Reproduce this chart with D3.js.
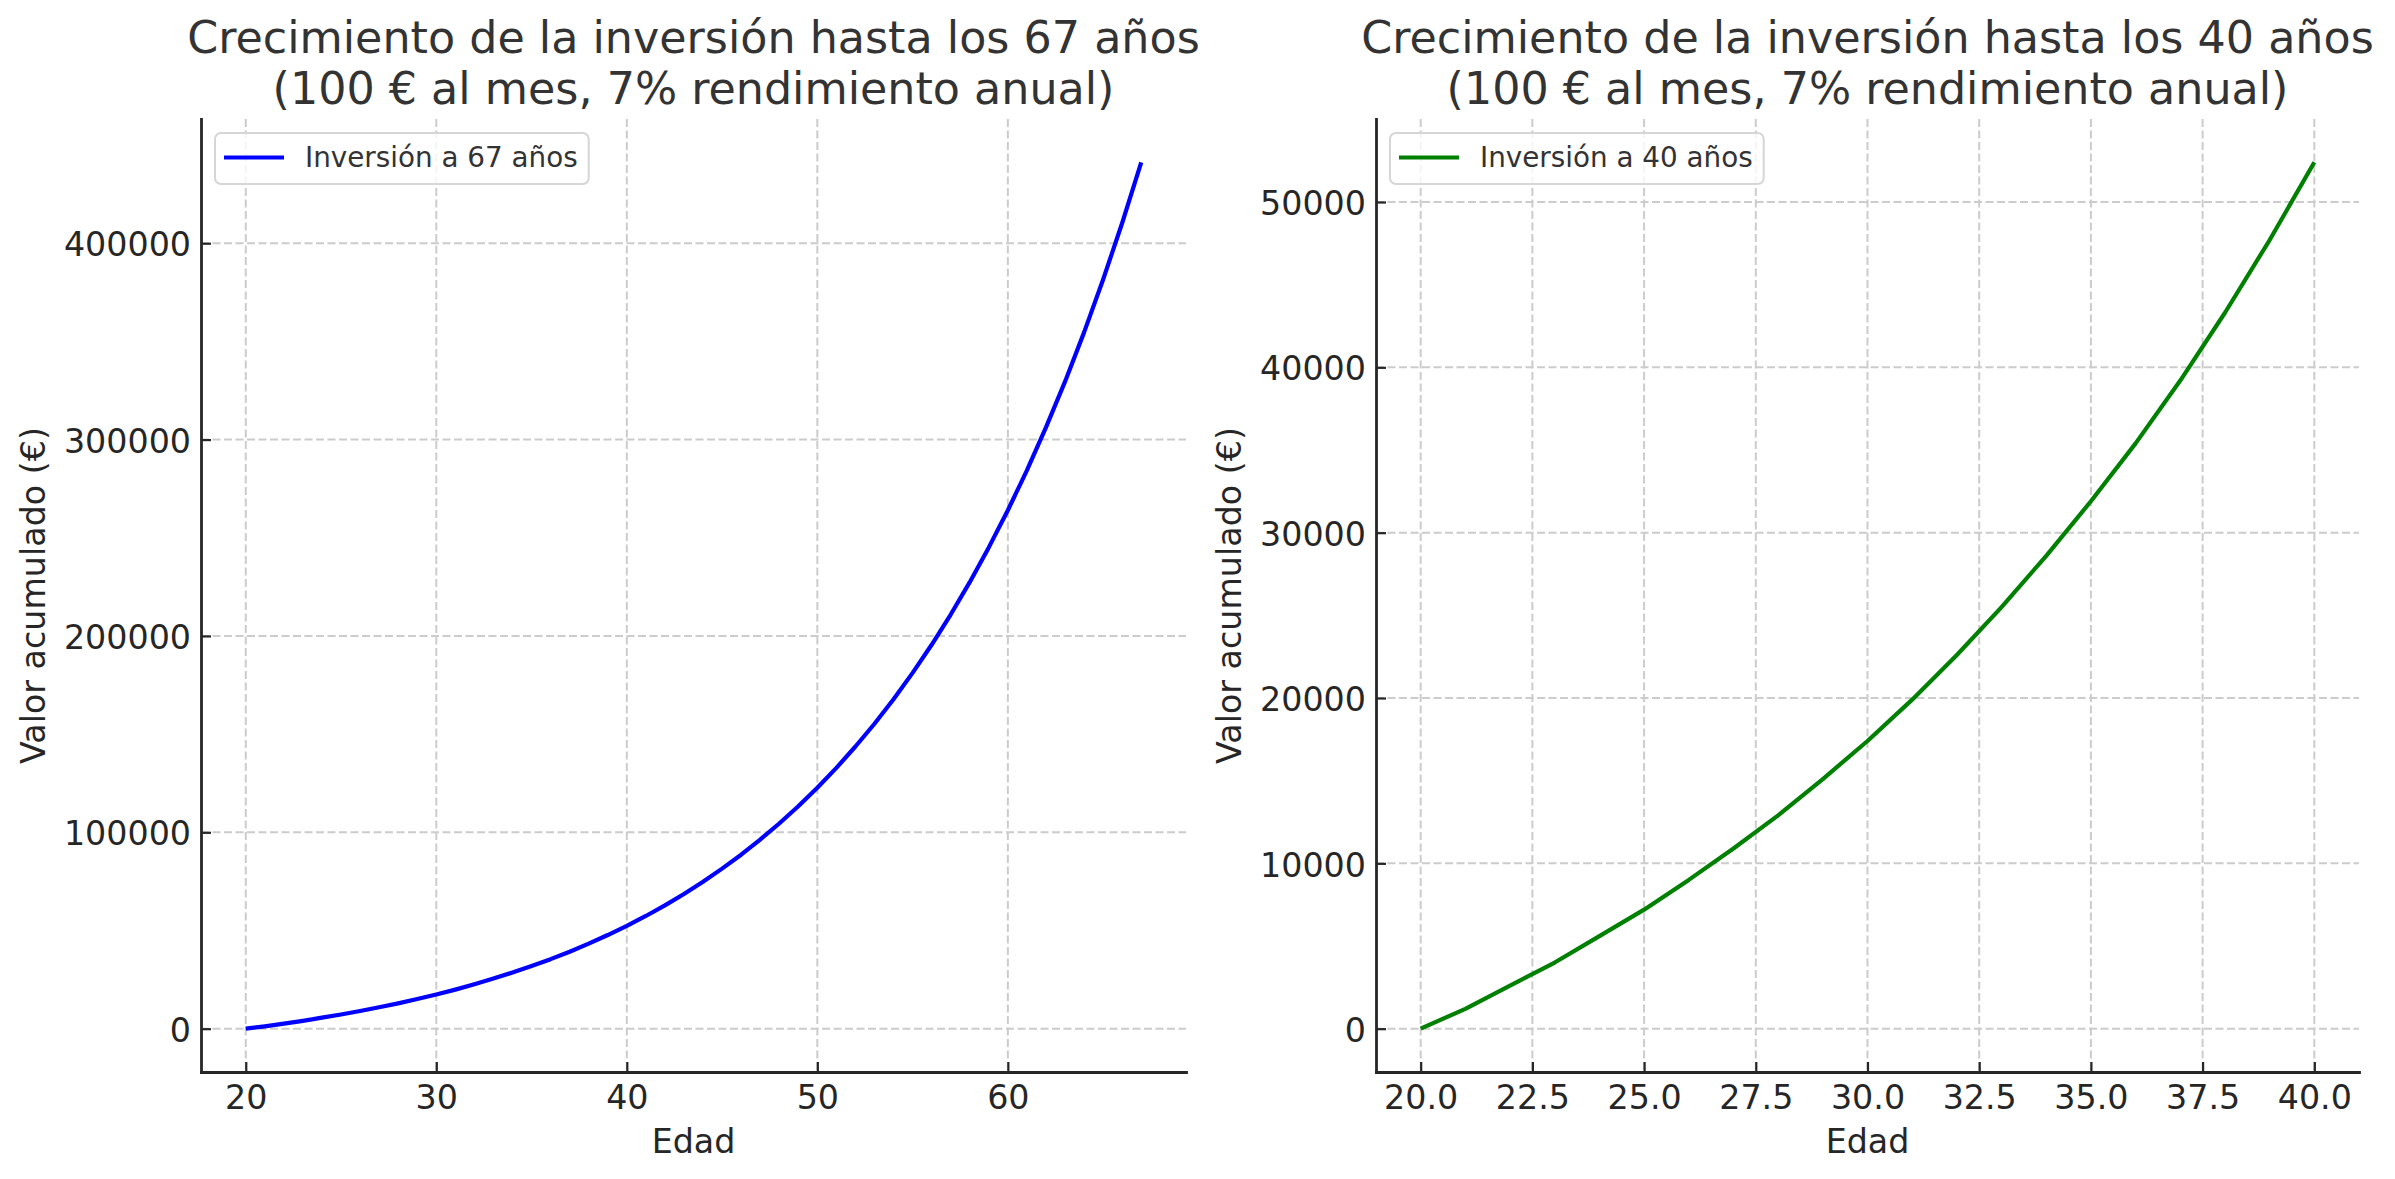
<!DOCTYPE html>
<html>
<head>
<meta charset="utf-8">
<script src="https://cdn.jsdelivr.net/npm/d3@7"></script>
<style>
  body { margin: 0; background: #fff; }
  svg { display: block; }
</style>
</head>
<body>
<div id="wrapper"></div>
<script>
// 1. Data
const ages67 = [20, 21, 22, 23, 24, 25, 26, 27, 28, 29, 30, 31, 32, 33, 34, 35,
  36, 37, 38, 39, 40, 41, 42, 43, 44, 45, 46, 47, 48, 49, 50, 51, 52, 53, 54,
  55, 56, 57, 58, 59, 60, 61, 62, 63, 64, 65, 66, 67]
const values67 = [0, 1200, 2600, 4000, 5600, 7200, 9000, 10900, 12900, 15100,
  17400, 19900, 22600, 25500, 28600, 31900, 35400, 39200, 43300, 47700, 52400,
  57400, 62800, 68600, 74800, 81500, 88600, 96300, 104500, 113300, 122700,
  132800, 143700, 155300, 167800, 181200, 195500, 210900, 227400, 245100,
  264000, 284300, 306200, 329500, 354600, 381500, 410300, 441200]

const ages40 = [20, 21, 22, 23, 24, 25, 26, 27, 28, 29, 30, 31, 32, 33, 34, 35,
  36, 37, 38, 39, 40]
const values40 = [0, 1200, 2600, 4000, 5600, 7200, 9000, 10900, 12900, 15100,
  17400, 19900, 22600, 25500, 28600, 31900, 35400, 39200, 43300, 47700, 52400]

const xTicks67 = [20, 30, 40, 50, 60]
const yTicks67 = [0, 100000, 200000, 300000, 400000]
const xTicks40 = [20, 22.5, 25, 27.5, 30, 32.5, 35, 37.5, 40]
const yTicks40 = [0, 10000, 20000, 30000, 40000, 50000]

const titles67 = ["Crecimiento de la inversión hasta los 67 años", "(100 € al mes, 7% rendimiento anual)"]
const titles40 = ["Crecimiento de la inversión hasta los 40 años", "(100 € al mes, 7% rendimiento anual)"]
const legend67 = "Inversión a 67 años"
const legend40 = "Inversión a 40 años"
const xLabel = "Edad"
const yLabel = "Valor acumulado (€)"

// 2. Dimensions
const dimensions = {
  width: 2395,
  height: 1179,
  top: 119,
  bottom: 1072,
}
const font = "'DejaVu Sans', 'Liberation Sans', sans-serif"
const ink = "#262626"

// 3. Canvas
const wrapper = d3.select("#wrapper")
  .append("svg")
    .attr("width", dimensions.width)
    .attr("height", dimensions.height)
    .attr("font-family", font)

// matplotlib style 5% margins
const padded = ([a, b]) => [a - (b - a) * 0.05, b + (b - a) * 0.05]

function drawPanel(cfg) {
  const { ages, values, xTicks, yTicks, xFormat, color, titles, legend,
    left, right, yLabelX } = cfg
  const top = dimensions.top
  const bottom = dimensions.bottom

  // 4. Scales
  const xScale = d3.scaleLinear()
    .domain(padded(d3.extent(ages)))
    .range([left, right])
  const yScale = d3.scaleLinear()
    .domain(padded(d3.extent(values)))
    .range([bottom, top])

  const panel = wrapper.append("g")

  // grid
  const grid = panel.append("g")
    .attr("stroke", "#cccccc")
    .attr("stroke-width", 2)
    .attr("stroke-dasharray", "8,3.5")
  grid.selectAll(".vx")
    .data(xTicks)
    .join("line")
      .attr("class", "vx")
      .attr("x1", d => xScale(d)).attr("x2", d => xScale(d))
      .attr("y1", top).attr("y2", bottom)
  grid.selectAll(".hy")
    .data(yTicks)
    .join("line")
      .attr("class", "hy")
      .attr("x1", left).attr("x2", right)
      .attr("y1", d => yScale(d)).attr("y2", d => yScale(d))

  // 5. Line
  const line = d3.line()
    .x((d, i) => xScale(ages[i]))
    .y(d => yScale(d))
  panel.append("path")
    .datum(values)
    .attr("d", line)
    .attr("fill", "none")
    .attr("stroke", color)
    .attr("stroke-width", 4.2)
    .attr("stroke-linejoin", "round")

  // 6. Axes
  const styleAxis = g => {
    g.attr("font-family", font).attr("font-size", 33.3)
    g.select(".domain").attr("stroke", ink).attr("stroke-width", 2.8)
      .attr("stroke-linecap", "square")
    g.selectAll(".tick line").attr("stroke", ink).attr("stroke-width", 2.2)
    g.selectAll(".tick text").attr("fill", ink)
  }

  panel.append("g")
    .attr("transform", `translate(0,${bottom})`)
    .call(d3.axisBottom(xScale)
      .tickValues(xTicks)
      .tickFormat(xFormat)
      .tickSizeInner(-10)
      .tickSizeOuter(0)
      .tickPadding(13))
    .call(styleAxis)

  panel.append("g")
    .attr("transform", `translate(${left},0)`)
    .call(d3.axisLeft(yScale)
      .tickValues(yTicks)
      .tickFormat(d3.format("d"))
      .tickSizeInner(-10)
      .tickSizeOuter(0)
      .tickPadding(10))
    .call(styleAxis)
    .call(g => g.selectAll(".tick text").attr("dy", "0.38em"))

  // labels
  panel.append("text")
    .attr("x", (left + right) / 2)
    .attr("y", 1153)
    .attr("text-anchor", "middle")
    .attr("font-size", 33.3)
    .attr("fill", ink)
    .text(xLabel)

  panel.append("text")
    .attr("transform", `translate(${yLabelX},${(top + bottom) / 2}) rotate(-90)`)
    .attr("text-anchor", "middle")
    .attr("font-size", 33.3)
    .attr("fill", ink)
    .text(yLabel)

  // title
  panel.append("g")
    .selectAll("text")
    .data(titles)
    .join("text")
      .attr("x", (left + right) / 2)
      .attr("y", (d, i) => 53 + i * 51)
      .attr("text-anchor", "middle")
      .attr("font-size", 44.4)
      .attr("fill", "#333333")
      .text(d => d)

  // legend
  const boxX = left + 14
  const leg = panel.append("g")
  const box = leg.append("rect")
    .attr("x", boxX)
    .attr("y", 133)
    .attr("height", 51)
    .attr("rx", 6)
    .attr("fill", "#ffffff")
    .attr("fill-opacity", 0.8)
    .attr("stroke", "#d6d6d6")
    .attr("stroke-width", 2)
  leg.append("line")
    .attr("x1", boxX + 9).attr("x2", boxX + 69)
    .attr("y1", 157.5).attr("y2", 157.5)
    .attr("stroke", color)
    .attr("stroke-width", 4.2)
  const legText = leg.append("text")
    .attr("x", boxX + 90)
    .attr("y", 167)
    .attr("font-size", 27.8)
    .attr("fill", "#333333")
    .text(legend)
  box.attr("width", 90 + legText.node().getComputedTextLength() + 11)
}

drawPanel({
  ages: ages67, values: values67,
  xTicks: xTicks67, yTicks: yTicks67,
  xFormat: d3.format("d"),
  color: "#0000ff",
  titles: titles67, legend: legend67,
  left: 201, right: 1186, yLabelX: 45,
})

drawPanel({
  ages: ages40, values: values40,
  xTicks: xTicks40, yTicks: yTicks40,
  xFormat: d3.format(".1f"),
  color: "#008000",
  titles: titles40, legend: legend40,
  left: 1376, right: 2359, yLabelX: 1241,
})
</script>
</body>
</html>
